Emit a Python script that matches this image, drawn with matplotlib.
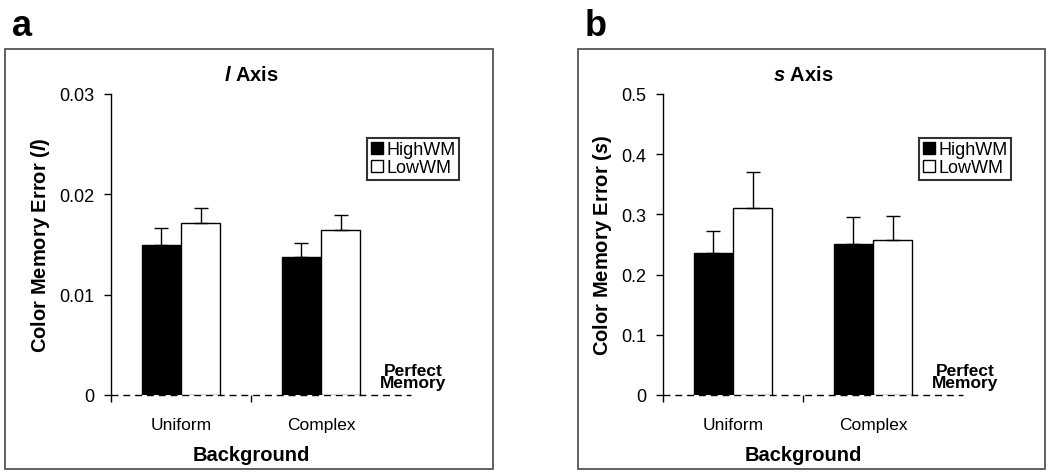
import numpy as np
import matplotlib
matplotlib.use("Agg")
import matplotlib.pyplot as plt
from matplotlib.patches import Rectangle, Patch

plt.rcParams['font.family'] = ['Liberation Sans', 'DejaVu Sans']
plt.rcParams['mathtext.fontset'] = 'custom'
plt.rcParams['mathtext.it'] = 'Liberation Sans:italic:bold'
plt.rcParams['mathtext.rm'] = 'Liberation Sans:bold'

categories = ['Uniform', 'Complex']
groups = ['HighWM', 'LowWM']

# panel a: l axis
l_high = [0.0150, 0.0138]
l_high_err = [0.0016, 0.0013]
l_low = [0.0171, 0.0164]
l_low_err = [0.0015, 0.0015]
l_ticks = [0, 0.01, 0.02, 0.03]
l_ticklabels = ['0', '0.01', '0.02', '0.03']

# panel b: s axis
s_high = [0.236, 0.251]
s_high_err = [0.036, 0.044]
s_low = [0.311, 0.258]
s_low_err = [0.059, 0.040]
s_ticks = [0, 0.1, 0.2, 0.3, 0.4, 0.5]
s_ticklabels = ['0', '0.1', '0.2', '0.3', '0.4', '0.5']

fig = plt.figure(figsize=(10.5, 4.77), dpi=100)
W, H = 1050, 477


def fx(px):
    return px / W


def fy(py):
    return 1 - py / H


def panel(left_px, box, letter, var, high, high_err, low, low_err, ticks, ticklabels):
    # outer frame
    x0, x1 = box
    fig.patches.append(Rectangle((fx(x0), fy(470)), fx(x1 - x0), (470 - 50) / H,
                                 transform=fig.transFigure, fill=False,
                                 edgecolor='#555555', linewidth=1.3))
    fig.text(fx(x0 + 7), fy(27), letter, fontsize=26, fontweight='bold',
             va='center', ha='left')

    ax = fig.add_axes([fx(left_px), fy(396), fx(280), (396 - 95) / H])
    x = np.arange(len(categories)) + 0.5
    w = 0.28
    ax.bar(x - w / 2, high, w, color='black', edgecolor='black', linewidth=1.0,
           yerr=[np.zeros(len(high)), high_err], capsize=5,
           error_kw=dict(elinewidth=1.0, capthick=1.0, ecolor='black'))
    ax.bar(x + w / 2, low, w, color='white', edgecolor='black', linewidth=1.0,
           yerr=[np.zeros(len(low)), low_err], capsize=5,
           error_kw=dict(elinewidth=1.0, capthick=1.0, ecolor='black'))

    ax.set_xlim(0, 2)
    ax.set_ylim(0, ticks[-1])
    ax.set_yticks(ticks)
    ax.set_yticklabels(ticklabels, fontsize=13)
    ax.set_xticks(x)
    ax.set_xticklabels(categories, fontsize=12.5)
    ax.set_xticks([0, 1], minor=True)
    ax.tick_params(axis='x', which='major', length=0, pad=16)
    ax.tick_params(axis='x', which='minor', length=5, width=1.0, direction='out')
    ax.tick_params(axis='y', length=5, width=1.0, direction='out', pad=7)

    for s in ['top', 'right', 'bottom']:
        ax.spines[s].set_visible(False)
    ax.spines['left'].set_linewidth(1.0)

    # perfect memory reference line
    ax.plot([0, 2.14], [0, 0], color='black', linestyle=(0, (5, 3.5)),
            linewidth=1.0, clip_on=False, zorder=0)
    ax.text(2.16, ticks[-1] * 0.062, 'Perfect\nMemory', fontsize=12.5,
            fontweight='bold', ha='center', va='center', linespacing=0.8)

    ax.set_ylabel('Color Memory Error ($\\mathit{' + var + '}$)', fontsize=14.5,
                  fontweight='bold', labelpad=5)
    ax.set_xlabel('Background', fontsize=14.5, fontweight='bold', labelpad=9)
    ax.set_title('$\\mathit{' + var + '}$ Axis', fontsize=14.5, fontweight='bold', pad=10)

    handles = [Patch(facecolor='black', edgecolor='black', label=groups[0]),
               Patch(facecolor='white', edgecolor='black', label=groups[1])]
    leg = ax.legend(handles=handles, loc='upper left', bbox_to_anchor=(0.915, 0.855),
                    fontsize=13, frameon=True, fancybox=False, handlelength=0.7,
                    handleheight=0.7, handletextpad=0.15, borderpad=0.2,
                    labelspacing=0.05, borderaxespad=0)
    leg.get_frame().set_edgecolor('black')
    leg.get_frame().set_linewidth(1.5)
    return ax


panel(111, (5, 493), 'a', 'l', l_high, l_high_err, l_low, l_low_err,
      l_ticks, l_ticklabels)
panel(663, (578, 1045), 'b', 's', s_high, s_high_err, s_low, s_low_err,
      s_ticks, s_ticklabels)

fig.savefig('out.png', dpi=100, facecolor='white')
